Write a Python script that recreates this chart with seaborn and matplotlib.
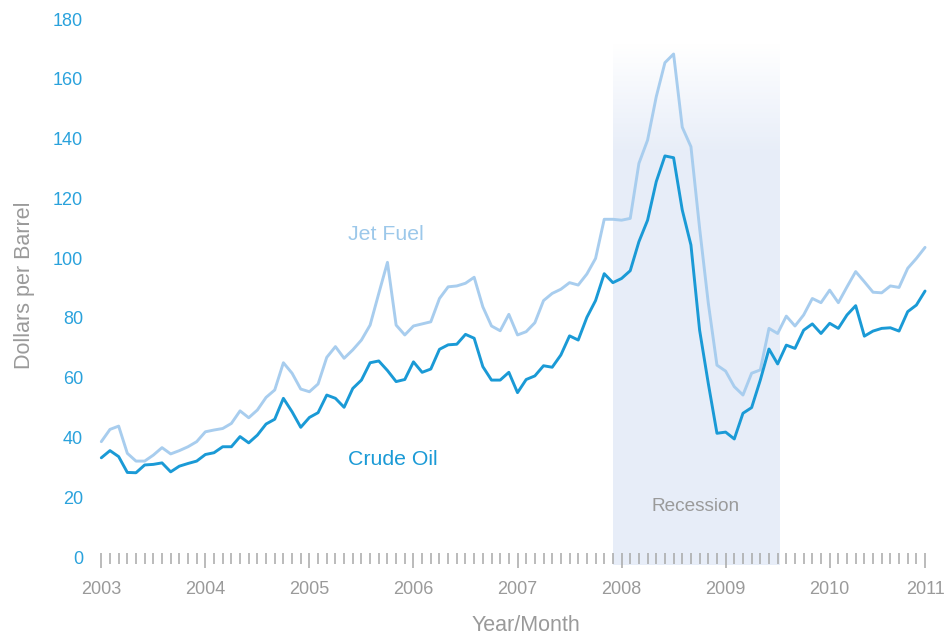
import numpy as np
import pandas as pd
import seaborn as sns
import matplotlib.pyplot as plt
from matplotlib.ticker import FixedLocator, MultipleLocator

# monthly prices, Jan 2003 .. Dec 2010 (dollars per barrel)
crude_oil = [
    33.2, 35.6, 33.6, 28.3, 28.2, 30.8, 31.0, 31.5, 28.5, 30.4, 31.3, 32.1,
    34.3, 34.9, 36.9, 36.9, 40.3, 38.2, 40.8, 44.5, 46.1, 53.1, 48.6, 43.4,
    46.7, 48.3, 54.2, 53.1, 50.1, 56.4, 59.2, 65.0, 65.6, 62.4, 58.7, 59.4,
    65.3, 61.8, 62.9, 69.5, 71.0, 71.2, 74.5, 73.2, 63.7, 59.2, 59.2, 61.8,
    55.0, 59.4, 60.6, 64.0, 63.5, 67.6, 74.0, 72.6, 80.2, 85.8, 94.8, 91.8,
    93.2, 95.8, 105.5, 112.7, 125.6, 134.2, 133.6, 116.1, 104.4, 75.9, 58.1, 41.4,
    41.8, 39.5, 48.1, 50.0, 59.2, 69.6, 64.6, 70.9, 69.8, 75.9, 78.0, 74.8,
    78.2, 76.5, 81.0, 84.1, 73.9, 75.6, 76.5, 76.7, 75.6, 82.1, 84.3, 89.0,
]
jet_fuel = [
    38.6, 42.7, 43.8, 34.7, 32.1, 32.1, 34.1, 36.6, 34.5, 35.6, 36.9, 38.6,
    41.9, 42.5, 43.0, 44.7, 48.9, 46.6, 49.2, 53.4, 55.9, 65.0, 61.5, 56.2,
    55.3, 57.9, 66.8, 70.4, 66.5, 69.3, 72.6, 77.6, 88.2, 98.6, 77.6, 74.3,
    77.3, 78.0, 78.7, 86.5, 90.4, 90.7, 91.6, 93.6, 83.7, 77.3, 75.7, 81.2,
    74.3, 75.4, 78.4, 85.8, 88.2, 89.6, 91.8, 91.0, 94.7, 99.9, 113.0, 113.0,
    112.7, 113.3, 131.7, 139.5, 154.0, 165.4, 168.3, 143.8, 137.3, 110.0, 85.0, 64.2,
    62.2, 57.0, 54.2, 61.5, 62.6, 76.5, 74.8, 80.6, 77.3, 81.0, 86.5, 85.1,
    89.3, 85.1, 90.4, 95.5, 92.1, 88.6, 88.4, 90.7, 90.2, 96.6, 99.9, 103.6,
]
year_labels = ['2003', '2004', '2005', '2006', '2007', '2008', '2009', '2010', '2011']
year_ticks = [0, 12, 24, 36, 48, 60, 72, 84, 95]   # last label sits on the last month
recession = (59, 78.2)   # Dec 2007 .. mid 2009, month index

CRUDE = '#1a9ad6'
JET = '#a8cdee'
GREY = '#9a9a9a'

df = pd.DataFrame({'month': np.arange(len(crude_oil)),
                   'Crude Oil': crude_oil, 'Jet Fuel': jet_fuel})
long_df = df.melt(id_vars='month', var_name='series', value_name='price')

sns.set_theme(style='white')
plt.rcParams['font.family'] = ['Liberation Sans', 'DejaVu Sans']

fig = plt.figure(figsize=(9.47, 6.41), dpi=100)
ax = fig.add_axes([0.1024, 0.1310, 0.879, 0.8393])

# recession band, fading to white at the top
grad = np.ones((256, 1, 4))
grad[..., 0] = 0.906
grad[..., 1] = 0.933
grad[..., 2] = 0.976
yy = np.linspace(-2.5, 172, 256)
grad[:, 0, 3] = np.clip((172 - yy) / (172 - 135), 0, 1)
ax.imshow(grad, extent=[recession[0], recession[1], -2.5, 172], origin='lower',
          aspect='auto', zorder=0, clip_on=False, interpolation='bilinear')

sns.lineplot(data=long_df, x='month', y='price', hue='series',
             palette={'Crude Oil': CRUDE, 'Jet Fuel': JET},
             hue_order=['Jet Fuel', 'Crude Oil'], linewidth=2.1, ax=ax, legend=False)

ax.set_xlim(-0.5, 95.5)
ax.set_ylim(0, 180)
ax.set_aspect('auto')
for s in ax.spines.values():
    s.set_visible(False)
# ticks start a few pixels above the zero line
ax.spines['bottom'].set_position(('outward', -3))

ax.yaxis.set_major_locator(FixedLocator(range(0, 181, 20)))
ax.tick_params(axis='y', length=0, pad=10, labelsize=13, labelcolor='#2aa2dc')

ax.xaxis.set_major_locator(FixedLocator(year_ticks))
ax.set_xticklabels(year_labels)
ax.xaxis.set_minor_locator(MultipleLocator(1))
ax.tick_params(axis='x', which='major', direction='out', length=11, width=1.1,
               color='#a8a8a8', labelsize=13, labelcolor=GREY, pad=9, bottom=True)
ax.tick_params(axis='x', which='minor', direction='out', length=8, width=1.1,
               color='#a8a8a8', bottom=True)

ax.set_xlabel('Year/Month', fontsize=15.5, color=GREY)
ax.set_ylabel('Dollars per Barrel', fontsize=15.5, color=GREY)
ax.xaxis.set_label_coords(0.515, -0.108)
ax.yaxis.set_label_coords(-0.075, 0.505)
ax.grid(False)

ax.text(32.8, 108, 'Jet Fuel', color='#9cc8ea', fontsize=15.3, ha='center', va='center')
ax.text(33.6, 32.5, 'Crude Oil', color=CRUDE, fontsize=15.3, ha='center', va='center')
ax.text(68.5, 17, 'Recession', color=GREY, fontsize=13.7, ha='center', va='center')

fig.savefig('out.png', dpi=100)
